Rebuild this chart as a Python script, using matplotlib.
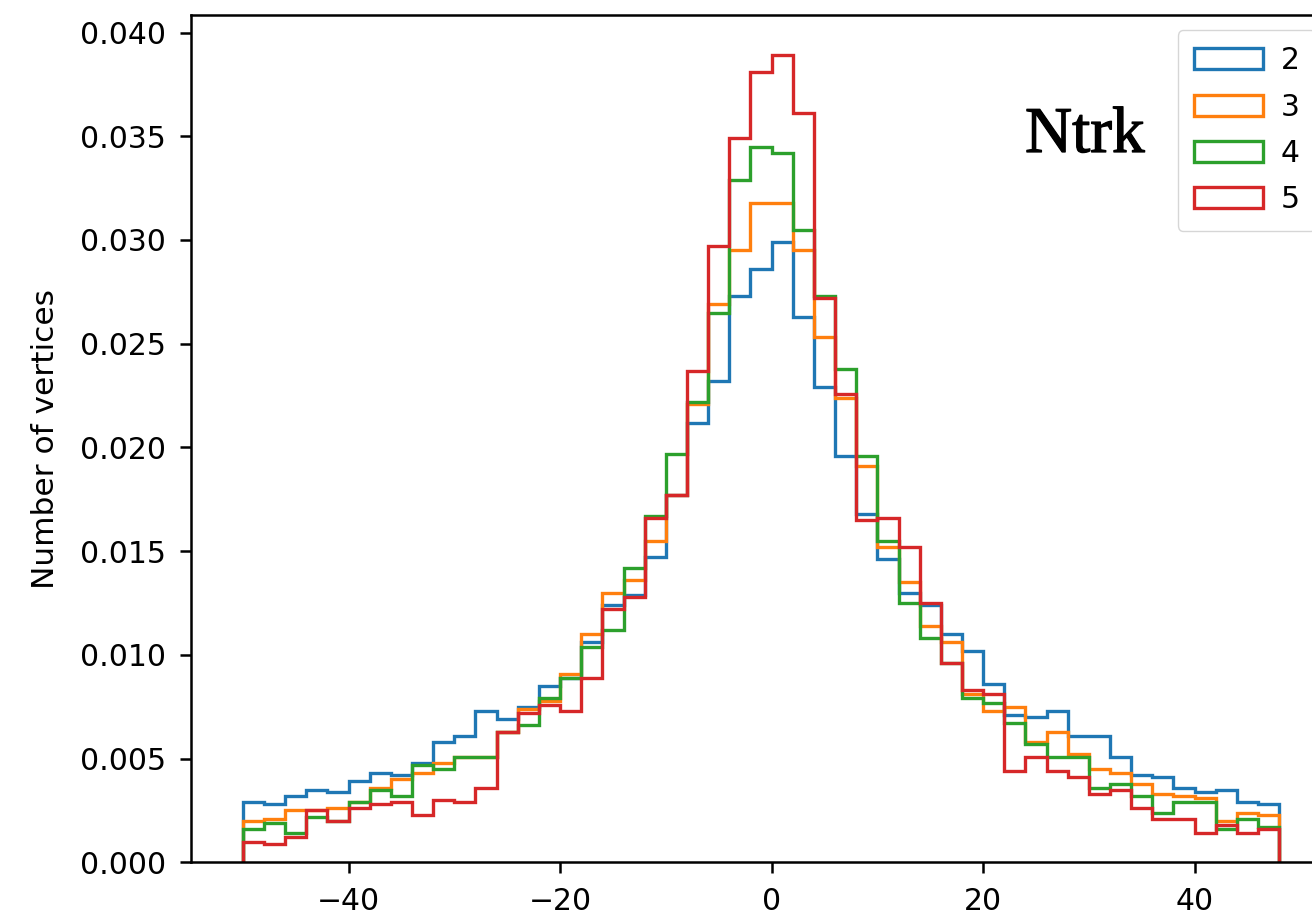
import numpy as np
import matplotlib
matplotlib.use("Agg")
import matplotlib.pyplot as plt
import matplotlib.patheffects as pe

# bin edges (z, width 2) and normalised vertex counts per Ntrk
edges = np.arange(-50, 50, 2)
labels = ["2", "3", "4", "5"]

ntrk2 = [0.0029, 0.0028, 0.0032, 0.0035, 0.0034, 0.0039, 0.0043, 0.0042, 0.0048, 0.0058,
         0.0061, 0.0073, 0.0069, 0.0075, 0.0085, 0.0089, 0.0106, 0.0124, 0.0129, 0.0147,
         0.0177, 0.0212, 0.0232, 0.0273, 0.0286, 0.0299, 0.0263, 0.0229, 0.0196, 0.0168,
         0.0146, 0.0130, 0.0124, 0.0110, 0.0102, 0.0086, 0.0071, 0.0070, 0.0073, 0.0061,
         0.0061, 0.0051, 0.0042, 0.0041, 0.0036, 0.0034, 0.0035, 0.0029, 0.0028]
ntrk3 = [0.0020, 0.0021, 0.0025, 0.0025, 0.0026, 0.0029, 0.0036, 0.0040, 0.0043, 0.0048,
         0.0051, 0.0051, 0.0063, 0.0074, 0.0078, 0.0091, 0.0110, 0.0130, 0.0136, 0.0155,
         0.0177, 0.0221, 0.0269, 0.0295, 0.0318, 0.0318, 0.0295, 0.0253, 0.0224, 0.0191,
         0.0152, 0.0135, 0.0114, 0.0106, 0.0081, 0.0073, 0.0075, 0.0058, 0.0063, 0.0052,
         0.0045, 0.0043, 0.0038, 0.0033, 0.0032, 0.0031, 0.0020, 0.0024, 0.0023]
ntrk4 = [0.0016, 0.0019, 0.0014, 0.0022, 0.0020, 0.0029, 0.0035, 0.0032, 0.0047, 0.0045,
         0.0051, 0.0051, 0.0063, 0.0066, 0.0079, 0.0089, 0.0104, 0.0112, 0.0142, 0.0167,
         0.0197, 0.0222, 0.0265, 0.0329, 0.0345, 0.0342, 0.0305, 0.0273, 0.0238, 0.0196,
         0.0155, 0.0125, 0.0108, 0.0096, 0.0079, 0.0077, 0.0067, 0.0057, 0.0051, 0.0051,
         0.0036, 0.0038, 0.0032, 0.0024, 0.0029, 0.0029, 0.0016, 0.0021, 0.0017]
ntrk5 = [0.0010, 0.0009, 0.0012, 0.0025, 0.0020, 0.0026, 0.0028, 0.0029, 0.0023, 0.0030,
         0.0029, 0.0036, 0.0063, 0.0072, 0.0076, 0.0073, 0.0089, 0.0122, 0.0128, 0.0166,
         0.0177, 0.0237, 0.0297, 0.0349, 0.0381, 0.0389, 0.0361, 0.0272, 0.0226, 0.0165,
         0.0166, 0.0152, 0.0125, 0.0096, 0.0083, 0.0081, 0.0044, 0.0051, 0.0044, 0.0041,
         0.0033, 0.0035, 0.0026, 0.0021, 0.0021, 0.0014, 0.0018, 0.0014, 0.0016]

centers = (edges[:-1] + edges[1:]) / 2

fig = plt.figure(figsize=(13.12, 9.21), dpi=100)
# the picture is a crop: right side of the axes lies outside the figure
ax = fig.add_axes([0.1456, 0.0637, 0.8689, 0.92])

for vals, lab in zip([ntrk2, ntrk3, ntrk4, ntrk5], labels):
    ax.hist(centers, bins=edges, weights=vals, histtype="step", linewidth=2.4, label=lab)

ax.set_ylabel("Number of vertices", fontsize=22.5, labelpad=14)
ax.tick_params(labelsize=21.5, length=8, width=1.8, pad=10)
for sp in ax.spines.values():
    sp.set_linewidth(1.8)

ax.legend(loc="upper right", fontsize=21.5, handlelength=2.3, handletextpad=0.6,
          borderpad=0.55, labelspacing=0.58)

fig.text(1025 / 1312, 1 - 152 / 921, "Ntrk", fontsize=47, family="Liberation Serif",
         va="baseline", ha="left",
         path_effects=[pe.withStroke(linewidth=0.9, foreground="black")])

fig.savefig("out.png", dpi=100)
